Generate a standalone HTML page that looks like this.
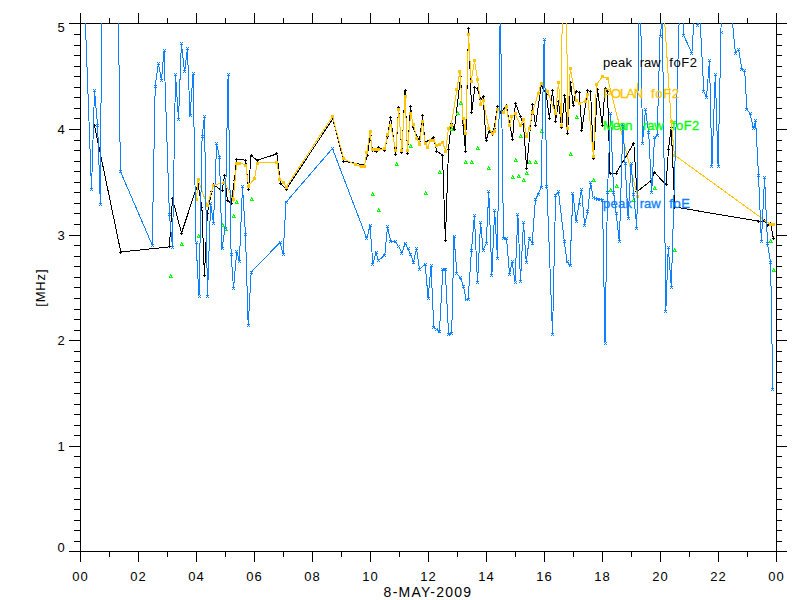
<!DOCTYPE html>
<html><head><meta charset="utf-8"><title>foF2</title>
<style>
html,body{margin:0;padding:0;background:#fff;}
svg{display:block;}
text{font-family:"Liberation Sans",sans-serif;}
</style></head><body>
<svg width="800" height="600" viewBox="0 0 800 600">
<rect x="0" y="0" width="800" height="600" fill="#fff"/>
<defs>
<clipPath id="clip"><rect x="80" y="23" width="697" height="529"/></clipPath>
</defs>
<path d="M80.5,23.5 H776.5 V551.5 H80.5 Z M80.5,551 v11 M80.5,23 v-10 M109.5,551 v6 M109.5,23 v-5 M138.5,551 v11 M138.5,23 v-10 M167.5,551 v6 M167.5,23 v-5 M196.5,551 v11 M196.5,23 v-10 M225.5,551 v6 M225.5,23 v-5 M254.5,551 v11 M254.5,23 v-10 M283.5,551 v6 M283.5,23 v-5 M312.5,551 v11 M312.5,23 v-10 M341.5,551 v6 M341.5,23 v-5 M370.5,551 v11 M370.5,23 v-10 M399.5,551 v6 M399.5,23 v-5 M428.5,551 v11 M428.5,23 v-10 M457.5,551 v6 M457.5,23 v-5 M486.5,551 v11 M486.5,23 v-10 M515.5,551 v6 M515.5,23 v-5 M544.5,551 v11 M544.5,23 v-10 M573.5,551 v6 M573.5,23 v-5 M602.5,551 v11 M602.5,23 v-10 M631.5,551 v6 M631.5,23 v-5 M660.5,551 v11 M660.5,23 v-10 M689.5,551 v6 M689.5,23 v-5 M718.5,551 v11 M718.5,23 v-10 M747.5,551 v6 M747.5,23 v-5 M776.5,551 v11 M776.5,23 v-10 M80,551.5 h-11 M776,551.5 h11 M80,541.5 h-6 M776,541.5 h6 M80,530.5 h-6 M776,530.5 h6 M80,520.5 h-6 M776,520.5 h6 M80,509.5 h-6 M776,509.5 h6 M80,499.5 h-6 M776,499.5 h6 M80,488.5 h-6 M776,488.5 h6 M80,477.5 h-6 M776,477.5 h6 M80,467.5 h-6 M776,467.5 h6 M80,456.5 h-6 M776,456.5 h6 M80,446.5 h-11 M776,446.5 h11 M80,435.5 h-6 M776,435.5 h6 M80,425.5 h-6 M776,425.5 h6 M80,414.5 h-6 M776,414.5 h6 M80,404.5 h-6 M776,404.5 h6 M80,393.5 h-6 M776,393.5 h6 M80,382.5 h-6 M776,382.5 h6 M80,372.5 h-6 M776,372.5 h6 M80,361.5 h-6 M776,361.5 h6 M80,351.5 h-6 M776,351.5 h6 M80,340.5 h-11 M776,340.5 h11 M80,330.5 h-6 M776,330.5 h6 M80,319.5 h-6 M776,319.5 h6 M80,309.5 h-6 M776,309.5 h6 M80,298.5 h-6 M776,298.5 h6 M80,287.5 h-6 M776,287.5 h6 M80,277.5 h-6 M776,277.5 h6 M80,266.5 h-6 M776,266.5 h6 M80,256.5 h-6 M776,256.5 h6 M80,245.5 h-6 M776,245.5 h6 M80,235.5 h-11 M776,235.5 h11 M80,224.5 h-6 M776,224.5 h6 M80,213.5 h-6 M776,213.5 h6 M80,203.5 h-6 M776,203.5 h6 M80,192.5 h-6 M776,192.5 h6 M80,182.5 h-6 M776,182.5 h6 M80,171.5 h-6 M776,171.5 h6 M80,161.5 h-6 M776,161.5 h6 M80,150.5 h-6 M776,150.5 h6 M80,140.5 h-6 M776,140.5 h6 M80,129.5 h-11 M776,129.5 h11 M80,118.5 h-6 M776,118.5 h6 M80,108.5 h-6 M776,108.5 h6 M80,97.5 h-6 M776,97.5 h6 M80,87.5 h-6 M776,87.5 h6 M80,76.5 h-6 M776,76.5 h6 M80,66.5 h-6 M776,66.5 h6 M80,55.5 h-6 M776,55.5 h6 M80,45.5 h-6 M776,45.5 h6 M80,34.5 h-6 M776,34.5 h6 M80,23.5 h-11 M776,23.5 h11" fill="none" stroke="#000" stroke-width="1" shape-rendering="crispEdges"/>
<g clip-path="url(#clip)" fill="none" stroke-width="1" shape-rendering="crispEdges">
<polyline points="94.5,125.6 120.8,252.0 169.4,246.9 172.5,198.8 181.5,233.0 196.2,188.8 198.1,184.7 201.9,207.5 204.4,275.6 207.4,213.0 211.8,191.0 213.3,184.7 222.0,190.6 224.7,175.5 227.4,200.4 231.2,203.1 234.4,180.9 236.6,159.2 245.7,160.2 248.5,189.4 251.1,155.2 257.0,160.4 276.9,153.9 279.8,178.0 280.5,183.0 286.2,189.4 332.8,118.8 343.8,161.2 364.4,165.0 367.5,155.0 370.0,135.0 372.5,150.0 376.2,151.9 378.8,147.5 384.8,150.6 387.5,136.0 390.6,117.5 395.8,154.5 398.6,107.5 401.9,152.5 405.0,90.6 407.5,153.0 410.6,106.6 413.0,127.5 419.4,141.2 422.5,115.6 425.0,142.5 433.5,137.5 436.9,151.2 442.5,155.0 445.4,240.6 448.5,149.4 451.2,123.0 454.4,129.4 460.6,76.9 463.1,125.0 465.5,151.7 468.5,28.8 471.7,112.6 474.8,87.3 477.3,88.8 480.7,99.5 483.1,96.6 486.1,140.6 489.0,131.0 492.0,134.0 494.2,128.1 497.5,106.9 501.2,113.1 506.2,105.0 512.5,139.4 515.4,103.1 520.6,116.9 523.5,124.4 526.6,168.8 532.5,104.4 535.5,125.6 541.2,85.0 546.2,94.4 549.4,118.1 552.5,90.6 555.6,121.2 558.5,101.9 561.6,127.5 564.8,95.0 567.5,133.8 570.6,82.5 573.1,105.0 576.2,91.2 579.4,92.5 581.9,130.0 587.5,90.0 590.6,91.9 593.5,158.8 597.5,89.0 602.3,125.5 605.0,88.0 607.5,91.0 610.0,173.0 616.2,173.0 633.8,143.2 636.9,191.7 650.6,181.0 654.5,172.5 666.1,184.8 668.5,149.4 671.2,127.5 674.8,207.0 758.8,221.2 762.0,221.2 764.4,220.0 767.5,225.0 770.6,223.0 773.3,238.0" stroke="#000"/>
<path d="M94,124h1v1h-1zM93,125h1v1h-1zM94,125h1v1h-1zM95,125h1v1h-1zM94,126h1v1h-1zM120,251h1v1h-1zM119,252h1v1h-1zM120,252h1v1h-1zM121,252h1v1h-1zM120,253h1v1h-1zM169,245h1v1h-1zM168,246h1v1h-1zM169,246h1v1h-1zM170,246h1v1h-1zM169,247h1v1h-1zM172,197h1v1h-1zM171,198h1v1h-1zM172,198h1v1h-1zM173,198h1v1h-1zM172,199h1v1h-1zM181,232h1v1h-1zM180,233h1v1h-1zM181,233h1v1h-1zM182,233h1v1h-1zM181,234h1v1h-1zM196,187h1v1h-1zM195,188h1v1h-1zM196,188h1v1h-1zM197,188h1v1h-1zM196,189h1v1h-1zM198,183h1v1h-1zM197,184h1v1h-1zM198,184h1v1h-1zM199,184h1v1h-1zM198,185h1v1h-1zM201,206h1v1h-1zM200,207h1v1h-1zM201,207h1v1h-1zM202,207h1v1h-1zM201,208h1v1h-1zM204,274h1v1h-1zM203,275h1v1h-1zM204,275h1v1h-1zM205,275h1v1h-1zM204,276h1v1h-1zM207,212h1v1h-1zM206,213h1v1h-1zM207,213h1v1h-1zM208,213h1v1h-1zM207,214h1v1h-1zM211,190h1v1h-1zM210,191h1v1h-1zM211,191h1v1h-1zM212,191h1v1h-1zM211,192h1v1h-1zM213,183h1v1h-1zM212,184h1v1h-1zM213,184h1v1h-1zM214,184h1v1h-1zM213,185h1v1h-1zM222,189h1v1h-1zM221,190h1v1h-1zM222,190h1v1h-1zM223,190h1v1h-1zM222,191h1v1h-1zM224,174h1v1h-1zM223,175h1v1h-1zM224,175h1v1h-1zM225,175h1v1h-1zM224,176h1v1h-1zM227,199h1v1h-1zM226,200h1v1h-1zM227,200h1v1h-1zM228,200h1v1h-1zM227,201h1v1h-1zM231,202h1v1h-1zM230,203h1v1h-1zM231,203h1v1h-1zM232,203h1v1h-1zM231,204h1v1h-1zM234,179h1v1h-1zM233,180h1v1h-1zM234,180h1v1h-1zM235,180h1v1h-1zM234,181h1v1h-1zM236,158h1v1h-1zM235,159h1v1h-1zM236,159h1v1h-1zM237,159h1v1h-1zM236,160h1v1h-1zM245,159h1v1h-1zM244,160h1v1h-1zM245,160h1v1h-1zM246,160h1v1h-1zM245,161h1v1h-1zM248,188h1v1h-1zM247,189h1v1h-1zM248,189h1v1h-1zM249,189h1v1h-1zM248,190h1v1h-1zM251,154h1v1h-1zM250,155h1v1h-1zM251,155h1v1h-1zM252,155h1v1h-1zM251,156h1v1h-1zM257,159h1v1h-1zM256,160h1v1h-1zM257,160h1v1h-1zM258,160h1v1h-1zM257,161h1v1h-1zM276,152h1v1h-1zM275,153h1v1h-1zM276,153h1v1h-1zM277,153h1v1h-1zM276,154h1v1h-1zM279,177h1v1h-1zM278,178h1v1h-1zM279,178h1v1h-1zM280,178h1v1h-1zM279,179h1v1h-1zM280,182h1v1h-1zM279,183h1v1h-1zM280,183h1v1h-1zM281,183h1v1h-1zM280,184h1v1h-1zM286,188h1v1h-1zM285,189h1v1h-1zM286,189h1v1h-1zM287,189h1v1h-1zM286,190h1v1h-1zM332,117h1v1h-1zM331,118h1v1h-1zM332,118h1v1h-1zM333,118h1v1h-1zM332,119h1v1h-1zM343,160h1v1h-1zM342,161h1v1h-1zM343,161h1v1h-1zM344,161h1v1h-1zM343,162h1v1h-1zM364,164h1v1h-1zM363,165h1v1h-1zM364,165h1v1h-1zM365,165h1v1h-1zM364,166h1v1h-1zM367,154h1v1h-1zM366,155h1v1h-1zM367,155h1v1h-1zM368,155h1v1h-1zM367,156h1v1h-1zM370,134h1v1h-1zM369,135h1v1h-1zM370,135h1v1h-1zM371,135h1v1h-1zM370,136h1v1h-1zM372,149h1v1h-1zM371,150h1v1h-1zM372,150h1v1h-1zM373,150h1v1h-1zM372,151h1v1h-1zM376,150h1v1h-1zM375,151h1v1h-1zM376,151h1v1h-1zM377,151h1v1h-1zM376,152h1v1h-1zM378,146h1v1h-1zM377,147h1v1h-1zM378,147h1v1h-1zM379,147h1v1h-1zM378,148h1v1h-1zM384,149h1v1h-1zM383,150h1v1h-1zM384,150h1v1h-1zM385,150h1v1h-1zM384,151h1v1h-1zM387,135h1v1h-1zM386,136h1v1h-1zM387,136h1v1h-1zM388,136h1v1h-1zM387,137h1v1h-1zM390,116h1v1h-1zM389,117h1v1h-1zM390,117h1v1h-1zM391,117h1v1h-1zM390,118h1v1h-1zM395,153h1v1h-1zM394,154h1v1h-1zM395,154h1v1h-1zM396,154h1v1h-1zM395,155h1v1h-1zM398,106h1v1h-1zM397,107h1v1h-1zM398,107h1v1h-1zM399,107h1v1h-1zM398,108h1v1h-1zM401,151h1v1h-1zM400,152h1v1h-1zM401,152h1v1h-1zM402,152h1v1h-1zM401,153h1v1h-1zM405,89h1v1h-1zM404,90h1v1h-1zM405,90h1v1h-1zM406,90h1v1h-1zM405,91h1v1h-1zM407,152h1v1h-1zM406,153h1v1h-1zM407,153h1v1h-1zM408,153h1v1h-1zM407,154h1v1h-1zM410,105h1v1h-1zM409,106h1v1h-1zM410,106h1v1h-1zM411,106h1v1h-1zM410,107h1v1h-1zM413,126h1v1h-1zM412,127h1v1h-1zM413,127h1v1h-1zM414,127h1v1h-1zM413,128h1v1h-1zM419,140h1v1h-1zM418,141h1v1h-1zM419,141h1v1h-1zM420,141h1v1h-1zM419,142h1v1h-1zM422,114h1v1h-1zM421,115h1v1h-1zM422,115h1v1h-1zM423,115h1v1h-1zM422,116h1v1h-1zM425,141h1v1h-1zM424,142h1v1h-1zM425,142h1v1h-1zM426,142h1v1h-1zM425,143h1v1h-1zM433,136h1v1h-1zM432,137h1v1h-1zM433,137h1v1h-1zM434,137h1v1h-1zM433,138h1v1h-1zM436,150h1v1h-1zM435,151h1v1h-1zM436,151h1v1h-1zM437,151h1v1h-1zM436,152h1v1h-1zM442,154h1v1h-1zM441,155h1v1h-1zM442,155h1v1h-1zM443,155h1v1h-1zM442,156h1v1h-1zM445,239h1v1h-1zM444,240h1v1h-1zM445,240h1v1h-1zM446,240h1v1h-1zM445,241h1v1h-1zM448,148h1v1h-1zM447,149h1v1h-1zM448,149h1v1h-1zM449,149h1v1h-1zM448,150h1v1h-1zM451,122h1v1h-1zM450,123h1v1h-1zM451,123h1v1h-1zM452,123h1v1h-1zM451,124h1v1h-1zM454,128h1v1h-1zM453,129h1v1h-1zM454,129h1v1h-1zM455,129h1v1h-1zM454,130h1v1h-1zM460,75h1v1h-1zM459,76h1v1h-1zM460,76h1v1h-1zM461,76h1v1h-1zM460,77h1v1h-1zM463,124h1v1h-1zM462,125h1v1h-1zM463,125h1v1h-1zM464,125h1v1h-1zM463,126h1v1h-1zM465,150h1v1h-1zM464,151h1v1h-1zM465,151h1v1h-1zM466,151h1v1h-1zM465,152h1v1h-1zM468,27h1v1h-1zM467,28h1v1h-1zM468,28h1v1h-1zM469,28h1v1h-1zM468,29h1v1h-1zM471,111h1v1h-1zM470,112h1v1h-1zM471,112h1v1h-1zM472,112h1v1h-1zM471,113h1v1h-1zM474,86h1v1h-1zM473,87h1v1h-1zM474,87h1v1h-1zM475,87h1v1h-1zM474,88h1v1h-1zM477,87h1v1h-1zM476,88h1v1h-1zM477,88h1v1h-1zM478,88h1v1h-1zM477,89h1v1h-1zM480,98h1v1h-1zM479,99h1v1h-1zM480,99h1v1h-1zM481,99h1v1h-1zM480,100h1v1h-1zM483,95h1v1h-1zM482,96h1v1h-1zM483,96h1v1h-1zM484,96h1v1h-1zM483,97h1v1h-1zM486,139h1v1h-1zM485,140h1v1h-1zM486,140h1v1h-1zM487,140h1v1h-1zM486,141h1v1h-1zM489,130h1v1h-1zM488,131h1v1h-1zM489,131h1v1h-1zM490,131h1v1h-1zM489,132h1v1h-1zM492,133h1v1h-1zM491,134h1v1h-1zM492,134h1v1h-1zM493,134h1v1h-1zM492,135h1v1h-1zM494,127h1v1h-1zM493,128h1v1h-1zM494,128h1v1h-1zM495,128h1v1h-1zM494,129h1v1h-1zM497,105h1v1h-1zM496,106h1v1h-1zM497,106h1v1h-1zM498,106h1v1h-1zM497,107h1v1h-1zM501,112h1v1h-1zM500,113h1v1h-1zM501,113h1v1h-1zM502,113h1v1h-1zM501,114h1v1h-1zM506,104h1v1h-1zM505,105h1v1h-1zM506,105h1v1h-1zM507,105h1v1h-1zM506,106h1v1h-1zM512,138h1v1h-1zM511,139h1v1h-1zM512,139h1v1h-1zM513,139h1v1h-1zM512,140h1v1h-1zM515,102h1v1h-1zM514,103h1v1h-1zM515,103h1v1h-1zM516,103h1v1h-1zM515,104h1v1h-1zM520,115h1v1h-1zM519,116h1v1h-1zM520,116h1v1h-1zM521,116h1v1h-1zM520,117h1v1h-1zM523,123h1v1h-1zM522,124h1v1h-1zM523,124h1v1h-1zM524,124h1v1h-1zM523,125h1v1h-1zM526,167h1v1h-1zM525,168h1v1h-1zM526,168h1v1h-1zM527,168h1v1h-1zM526,169h1v1h-1zM532,103h1v1h-1zM531,104h1v1h-1zM532,104h1v1h-1zM533,104h1v1h-1zM532,105h1v1h-1zM535,124h1v1h-1zM534,125h1v1h-1zM535,125h1v1h-1zM536,125h1v1h-1zM535,126h1v1h-1zM541,84h1v1h-1zM540,85h1v1h-1zM541,85h1v1h-1zM542,85h1v1h-1zM541,86h1v1h-1zM546,93h1v1h-1zM545,94h1v1h-1zM546,94h1v1h-1zM547,94h1v1h-1zM546,95h1v1h-1zM549,117h1v1h-1zM548,118h1v1h-1zM549,118h1v1h-1zM550,118h1v1h-1zM549,119h1v1h-1zM552,89h1v1h-1zM551,90h1v1h-1zM552,90h1v1h-1zM553,90h1v1h-1zM552,91h1v1h-1zM555,120h1v1h-1zM554,121h1v1h-1zM555,121h1v1h-1zM556,121h1v1h-1zM555,122h1v1h-1zM558,100h1v1h-1zM557,101h1v1h-1zM558,101h1v1h-1zM559,101h1v1h-1zM558,102h1v1h-1zM561,126h1v1h-1zM560,127h1v1h-1zM561,127h1v1h-1zM562,127h1v1h-1zM561,128h1v1h-1zM564,94h1v1h-1zM563,95h1v1h-1zM564,95h1v1h-1zM565,95h1v1h-1zM564,96h1v1h-1zM567,132h1v1h-1zM566,133h1v1h-1zM567,133h1v1h-1zM568,133h1v1h-1zM567,134h1v1h-1zM570,81h1v1h-1zM569,82h1v1h-1zM570,82h1v1h-1zM571,82h1v1h-1zM570,83h1v1h-1zM573,104h1v1h-1zM572,105h1v1h-1zM573,105h1v1h-1zM574,105h1v1h-1zM573,106h1v1h-1zM576,90h1v1h-1zM575,91h1v1h-1zM576,91h1v1h-1zM577,91h1v1h-1zM576,92h1v1h-1zM579,91h1v1h-1zM578,92h1v1h-1zM579,92h1v1h-1zM580,92h1v1h-1zM579,93h1v1h-1zM581,129h1v1h-1zM580,130h1v1h-1zM581,130h1v1h-1zM582,130h1v1h-1zM581,131h1v1h-1zM587,89h1v1h-1zM586,90h1v1h-1zM587,90h1v1h-1zM588,90h1v1h-1zM587,91h1v1h-1zM590,90h1v1h-1zM589,91h1v1h-1zM590,91h1v1h-1zM591,91h1v1h-1zM590,92h1v1h-1zM593,157h1v1h-1zM592,158h1v1h-1zM593,158h1v1h-1zM594,158h1v1h-1zM593,159h1v1h-1zM597,88h1v1h-1zM596,89h1v1h-1zM597,89h1v1h-1zM598,89h1v1h-1zM597,90h1v1h-1zM602,124h1v1h-1zM601,125h1v1h-1zM602,125h1v1h-1zM603,125h1v1h-1zM602,126h1v1h-1zM605,87h1v1h-1zM604,88h1v1h-1zM605,88h1v1h-1zM606,88h1v1h-1zM605,89h1v1h-1zM607,90h1v1h-1zM606,91h1v1h-1zM607,91h1v1h-1zM608,91h1v1h-1zM607,92h1v1h-1zM610,172h1v1h-1zM609,173h1v1h-1zM610,173h1v1h-1zM611,173h1v1h-1zM610,174h1v1h-1zM616,172h1v1h-1zM615,173h1v1h-1zM616,173h1v1h-1zM617,173h1v1h-1zM616,174h1v1h-1zM633,142h1v1h-1zM632,143h1v1h-1zM633,143h1v1h-1zM634,143h1v1h-1zM633,144h1v1h-1zM636,190h1v1h-1zM635,191h1v1h-1zM636,191h1v1h-1zM637,191h1v1h-1zM636,192h1v1h-1zM650,180h1v1h-1zM649,181h1v1h-1zM650,181h1v1h-1zM651,181h1v1h-1zM650,182h1v1h-1zM654,171h1v1h-1zM653,172h1v1h-1zM654,172h1v1h-1zM655,172h1v1h-1zM654,173h1v1h-1zM666,183h1v1h-1zM665,184h1v1h-1zM666,184h1v1h-1zM667,184h1v1h-1zM666,185h1v1h-1zM668,148h1v1h-1zM667,149h1v1h-1zM668,149h1v1h-1zM669,149h1v1h-1zM668,150h1v1h-1zM671,126h1v1h-1zM670,127h1v1h-1zM671,127h1v1h-1zM672,127h1v1h-1zM671,128h1v1h-1zM674,206h1v1h-1zM673,207h1v1h-1zM674,207h1v1h-1zM675,207h1v1h-1zM674,208h1v1h-1zM758,220h1v1h-1zM757,221h1v1h-1zM758,221h1v1h-1zM759,221h1v1h-1zM758,222h1v1h-1zM762,220h1v1h-1zM761,221h1v1h-1zM762,221h1v1h-1zM763,221h1v1h-1zM762,222h1v1h-1zM764,219h1v1h-1zM763,220h1v1h-1zM764,220h1v1h-1zM765,220h1v1h-1zM764,221h1v1h-1zM767,224h1v1h-1zM766,225h1v1h-1zM767,225h1v1h-1zM768,225h1v1h-1zM767,226h1v1h-1zM770,222h1v1h-1zM769,223h1v1h-1zM770,223h1v1h-1zM771,223h1v1h-1zM770,224h1v1h-1zM773,237h1v1h-1zM772,238h1v1h-1zM773,238h1v1h-1zM774,238h1v1h-1zM773,239h1v1h-1z" fill="#000" stroke="none"/>
<polyline points="196.5,199.8 198.1,179.8 207.3,205.8 213.3,185.2 224.7,182.5 233.2,199.9 236.6,163.5 239.9,163.0 245.7,165.1 248.5,186.0 254.6,178.4 257.2,163.0 276.9,162.3 279.8,179.4 283.0,182.0 286.2,187.0 332.5,116.5 343.8,158.8 355.0,164.4 361.9,166.9 364.4,166.2 366.9,152.5 370.0,131.2 372.2,149.4 375.6,149.4 378.8,149.4 384.8,148.8 387.5,134.8 390.6,125.3 395.8,150.3 398.6,109.0 401.9,150.0 405.0,96.2 407.5,150.0 410.6,113.8 413.5,124.4 416.5,138.1 419.4,144.4 422.5,121.2 425.0,143.8 427.5,147.5 430.6,140.0 433.5,140.0 436.9,145.6 439.4,144.4 442.5,142.2 445.6,151.0 448.5,128.4 451.2,125.3 456.9,89.3 459.9,71.2 463.1,118.8 465.6,133.4 468.5,34.4 471.2,81.5 474.5,60.7 477.5,79.0 480.6,104.0 483.1,100.6 488.8,128.1 492.5,133.8 494.4,131.9 497.5,109.4 503.8,112.5 506.2,106.2 509.4,125.0 511.9,116.9 515.0,113.8 520.6,125.6 523.5,119.4 526.6,136.2 529.4,128.1 532.5,112.2 538.1,93.8 541.2,83.1 547.5,91.2 555.6,113.8 558.5,82.2 561.6,125.0 564.0,-400.0 567.5,128.8 570.3,68.1 576.2,100.6 579.4,103.1 585.0,101.2 587.5,94.2 593.4,156.2 596.4,84.4 602.5,76.7 607.5,78.3 637.5,196.0 640.0,-355.0 671.2,121.5 674.4,155.0 770.0,224.2 773.0,224.4" stroke="#ffc400"/>
<path d="M195,198h1v1h-1zM195,199h1v1h-1zM195,200h1v1h-1zM196,198h1v1h-1zM196,199h1v1h-1zM196,200h1v1h-1zM197,198h1v1h-1zM197,199h1v1h-1zM197,200h1v1h-1zM197,178h1v1h-1zM197,179h1v1h-1zM197,180h1v1h-1zM198,178h1v1h-1zM198,179h1v1h-1zM198,180h1v1h-1zM199,178h1v1h-1zM199,179h1v1h-1zM199,180h1v1h-1zM206,204h1v1h-1zM206,205h1v1h-1zM206,206h1v1h-1zM207,204h1v1h-1zM207,205h1v1h-1zM207,206h1v1h-1zM208,204h1v1h-1zM208,205h1v1h-1zM208,206h1v1h-1zM212,184h1v1h-1zM212,185h1v1h-1zM212,186h1v1h-1zM213,184h1v1h-1zM213,185h1v1h-1zM213,186h1v1h-1zM214,184h1v1h-1zM214,185h1v1h-1zM214,186h1v1h-1zM223,181h1v1h-1zM223,182h1v1h-1zM223,183h1v1h-1zM224,181h1v1h-1zM224,182h1v1h-1zM224,183h1v1h-1zM225,181h1v1h-1zM225,182h1v1h-1zM225,183h1v1h-1zM232,198h1v1h-1zM232,199h1v1h-1zM232,200h1v1h-1zM233,198h1v1h-1zM233,199h1v1h-1zM233,200h1v1h-1zM234,198h1v1h-1zM234,199h1v1h-1zM234,200h1v1h-1zM235,162h1v1h-1zM235,163h1v1h-1zM235,164h1v1h-1zM236,162h1v1h-1zM236,163h1v1h-1zM236,164h1v1h-1zM237,162h1v1h-1zM237,163h1v1h-1zM237,164h1v1h-1zM238,162h1v1h-1zM238,163h1v1h-1zM238,164h1v1h-1zM239,162h1v1h-1zM239,163h1v1h-1zM239,164h1v1h-1zM240,162h1v1h-1zM240,163h1v1h-1zM240,164h1v1h-1zM244,164h1v1h-1zM244,165h1v1h-1zM244,166h1v1h-1zM245,164h1v1h-1zM245,165h1v1h-1zM245,166h1v1h-1zM246,164h1v1h-1zM246,165h1v1h-1zM246,166h1v1h-1zM247,185h1v1h-1zM247,186h1v1h-1zM247,187h1v1h-1zM248,185h1v1h-1zM248,186h1v1h-1zM248,187h1v1h-1zM249,185h1v1h-1zM249,186h1v1h-1zM249,187h1v1h-1zM253,177h1v1h-1zM253,178h1v1h-1zM253,179h1v1h-1zM254,177h1v1h-1zM254,178h1v1h-1zM254,179h1v1h-1zM255,177h1v1h-1zM255,178h1v1h-1zM255,179h1v1h-1zM256,162h1v1h-1zM256,163h1v1h-1zM256,164h1v1h-1zM257,162h1v1h-1zM257,163h1v1h-1zM257,164h1v1h-1zM258,162h1v1h-1zM258,163h1v1h-1zM258,164h1v1h-1zM275,161h1v1h-1zM275,162h1v1h-1zM275,163h1v1h-1zM276,161h1v1h-1zM276,162h1v1h-1zM276,163h1v1h-1zM277,161h1v1h-1zM277,162h1v1h-1zM277,163h1v1h-1zM278,178h1v1h-1zM278,179h1v1h-1zM278,180h1v1h-1zM279,178h1v1h-1zM279,179h1v1h-1zM279,180h1v1h-1zM280,178h1v1h-1zM280,179h1v1h-1zM280,180h1v1h-1zM282,181h1v1h-1zM282,182h1v1h-1zM282,183h1v1h-1zM283,181h1v1h-1zM283,182h1v1h-1zM283,183h1v1h-1zM284,181h1v1h-1zM284,182h1v1h-1zM284,183h1v1h-1zM285,186h1v1h-1zM285,187h1v1h-1zM285,188h1v1h-1zM286,186h1v1h-1zM286,187h1v1h-1zM286,188h1v1h-1zM287,186h1v1h-1zM287,187h1v1h-1zM287,188h1v1h-1zM331,115h1v1h-1zM331,116h1v1h-1zM331,117h1v1h-1zM332,115h1v1h-1zM332,116h1v1h-1zM332,117h1v1h-1zM333,115h1v1h-1zM333,116h1v1h-1zM333,117h1v1h-1zM342,157h1v1h-1zM342,158h1v1h-1zM342,159h1v1h-1zM343,157h1v1h-1zM343,158h1v1h-1zM343,159h1v1h-1zM344,157h1v1h-1zM344,158h1v1h-1zM344,159h1v1h-1zM354,163h1v1h-1zM354,164h1v1h-1zM354,165h1v1h-1zM355,163h1v1h-1zM355,164h1v1h-1zM355,165h1v1h-1zM356,163h1v1h-1zM356,164h1v1h-1zM356,165h1v1h-1zM360,165h1v1h-1zM360,166h1v1h-1zM360,167h1v1h-1zM361,165h1v1h-1zM361,166h1v1h-1zM361,167h1v1h-1zM362,165h1v1h-1zM362,166h1v1h-1zM362,167h1v1h-1zM363,165h1v1h-1zM363,166h1v1h-1zM363,167h1v1h-1zM364,165h1v1h-1zM364,166h1v1h-1zM364,167h1v1h-1zM365,165h1v1h-1zM365,166h1v1h-1zM365,167h1v1h-1zM365,151h1v1h-1zM365,152h1v1h-1zM365,153h1v1h-1zM366,151h1v1h-1zM366,152h1v1h-1zM366,153h1v1h-1zM367,151h1v1h-1zM367,152h1v1h-1zM367,153h1v1h-1zM369,130h1v1h-1zM369,131h1v1h-1zM369,132h1v1h-1zM370,130h1v1h-1zM370,131h1v1h-1zM370,132h1v1h-1zM371,130h1v1h-1zM371,131h1v1h-1zM371,132h1v1h-1zM371,148h1v1h-1zM371,149h1v1h-1zM371,150h1v1h-1zM372,148h1v1h-1zM372,149h1v1h-1zM372,150h1v1h-1zM373,148h1v1h-1zM373,149h1v1h-1zM373,150h1v1h-1zM374,148h1v1h-1zM374,149h1v1h-1zM374,150h1v1h-1zM375,148h1v1h-1zM375,149h1v1h-1zM375,150h1v1h-1zM376,148h1v1h-1zM376,149h1v1h-1zM376,150h1v1h-1zM377,148h1v1h-1zM377,149h1v1h-1zM377,150h1v1h-1zM378,148h1v1h-1zM378,149h1v1h-1zM378,150h1v1h-1zM379,148h1v1h-1zM379,149h1v1h-1zM379,150h1v1h-1zM383,147h1v1h-1zM383,148h1v1h-1zM383,149h1v1h-1zM384,147h1v1h-1zM384,148h1v1h-1zM384,149h1v1h-1zM385,147h1v1h-1zM385,148h1v1h-1zM385,149h1v1h-1zM386,133h1v1h-1zM386,134h1v1h-1zM386,135h1v1h-1zM387,133h1v1h-1zM387,134h1v1h-1zM387,135h1v1h-1zM388,133h1v1h-1zM388,134h1v1h-1zM388,135h1v1h-1zM389,124h1v1h-1zM389,125h1v1h-1zM389,126h1v1h-1zM390,124h1v1h-1zM390,125h1v1h-1zM390,126h1v1h-1zM391,124h1v1h-1zM391,125h1v1h-1zM391,126h1v1h-1zM394,149h1v1h-1zM394,150h1v1h-1zM394,151h1v1h-1zM395,149h1v1h-1zM395,150h1v1h-1zM395,151h1v1h-1zM396,149h1v1h-1zM396,150h1v1h-1zM396,151h1v1h-1zM397,108h1v1h-1zM397,109h1v1h-1zM397,110h1v1h-1zM398,108h1v1h-1zM398,109h1v1h-1zM398,110h1v1h-1zM399,108h1v1h-1zM399,109h1v1h-1zM399,110h1v1h-1zM400,149h1v1h-1zM400,150h1v1h-1zM400,151h1v1h-1zM401,149h1v1h-1zM401,150h1v1h-1zM401,151h1v1h-1zM402,149h1v1h-1zM402,150h1v1h-1zM402,151h1v1h-1zM404,95h1v1h-1zM404,96h1v1h-1zM404,97h1v1h-1zM405,95h1v1h-1zM405,96h1v1h-1zM405,97h1v1h-1zM406,95h1v1h-1zM406,96h1v1h-1zM406,97h1v1h-1zM406,149h1v1h-1zM406,150h1v1h-1zM406,151h1v1h-1zM407,149h1v1h-1zM407,150h1v1h-1zM407,151h1v1h-1zM408,149h1v1h-1zM408,150h1v1h-1zM408,151h1v1h-1zM409,112h1v1h-1zM409,113h1v1h-1zM409,114h1v1h-1zM410,112h1v1h-1zM410,113h1v1h-1zM410,114h1v1h-1zM411,112h1v1h-1zM411,113h1v1h-1zM411,114h1v1h-1zM412,123h1v1h-1zM412,124h1v1h-1zM412,125h1v1h-1zM413,123h1v1h-1zM413,124h1v1h-1zM413,125h1v1h-1zM414,123h1v1h-1zM414,124h1v1h-1zM414,125h1v1h-1zM415,137h1v1h-1zM415,138h1v1h-1zM415,139h1v1h-1zM416,137h1v1h-1zM416,138h1v1h-1zM416,139h1v1h-1zM417,137h1v1h-1zM417,138h1v1h-1zM417,139h1v1h-1zM418,143h1v1h-1zM418,144h1v1h-1zM418,145h1v1h-1zM419,143h1v1h-1zM419,144h1v1h-1zM419,145h1v1h-1zM420,143h1v1h-1zM420,144h1v1h-1zM420,145h1v1h-1zM421,120h1v1h-1zM421,121h1v1h-1zM421,122h1v1h-1zM422,120h1v1h-1zM422,121h1v1h-1zM422,122h1v1h-1zM423,120h1v1h-1zM423,121h1v1h-1zM423,122h1v1h-1zM424,142h1v1h-1zM424,143h1v1h-1zM424,144h1v1h-1zM425,142h1v1h-1zM425,143h1v1h-1zM425,144h1v1h-1zM426,142h1v1h-1zM426,143h1v1h-1zM426,144h1v1h-1zM426,146h1v1h-1zM426,147h1v1h-1zM426,148h1v1h-1zM427,146h1v1h-1zM427,147h1v1h-1zM427,148h1v1h-1zM428,146h1v1h-1zM428,147h1v1h-1zM428,148h1v1h-1zM429,139h1v1h-1zM429,140h1v1h-1zM429,141h1v1h-1zM430,139h1v1h-1zM430,140h1v1h-1zM430,141h1v1h-1zM431,139h1v1h-1zM431,140h1v1h-1zM431,141h1v1h-1zM432,139h1v1h-1zM432,140h1v1h-1zM432,141h1v1h-1zM433,139h1v1h-1zM433,140h1v1h-1zM433,141h1v1h-1zM434,139h1v1h-1zM434,140h1v1h-1zM434,141h1v1h-1zM435,144h1v1h-1zM435,145h1v1h-1zM435,146h1v1h-1zM436,144h1v1h-1zM436,145h1v1h-1zM436,146h1v1h-1zM437,144h1v1h-1zM437,145h1v1h-1zM437,146h1v1h-1zM438,143h1v1h-1zM438,144h1v1h-1zM438,145h1v1h-1zM439,143h1v1h-1zM439,144h1v1h-1zM439,145h1v1h-1zM440,143h1v1h-1zM440,144h1v1h-1zM440,145h1v1h-1zM441,141h1v1h-1zM441,142h1v1h-1zM441,143h1v1h-1zM442,141h1v1h-1zM442,142h1v1h-1zM442,143h1v1h-1zM443,141h1v1h-1zM443,142h1v1h-1zM443,143h1v1h-1zM444,150h1v1h-1zM444,151h1v1h-1zM444,152h1v1h-1zM445,150h1v1h-1zM445,151h1v1h-1zM445,152h1v1h-1zM446,150h1v1h-1zM446,151h1v1h-1zM446,152h1v1h-1zM447,127h1v1h-1zM447,128h1v1h-1zM447,129h1v1h-1zM448,127h1v1h-1zM448,128h1v1h-1zM448,129h1v1h-1zM449,127h1v1h-1zM449,128h1v1h-1zM449,129h1v1h-1zM450,124h1v1h-1zM450,125h1v1h-1zM450,126h1v1h-1zM451,124h1v1h-1zM451,125h1v1h-1zM451,126h1v1h-1zM452,124h1v1h-1zM452,125h1v1h-1zM452,126h1v1h-1zM455,88h1v1h-1zM455,89h1v1h-1zM455,90h1v1h-1zM456,88h1v1h-1zM456,89h1v1h-1zM456,90h1v1h-1zM457,88h1v1h-1zM457,89h1v1h-1zM457,90h1v1h-1zM458,70h1v1h-1zM458,71h1v1h-1zM458,72h1v1h-1zM459,70h1v1h-1zM459,71h1v1h-1zM459,72h1v1h-1zM460,70h1v1h-1zM460,71h1v1h-1zM460,72h1v1h-1zM462,117h1v1h-1zM462,118h1v1h-1zM462,119h1v1h-1zM463,117h1v1h-1zM463,118h1v1h-1zM463,119h1v1h-1zM464,117h1v1h-1zM464,118h1v1h-1zM464,119h1v1h-1zM464,132h1v1h-1zM464,133h1v1h-1zM464,134h1v1h-1zM465,132h1v1h-1zM465,133h1v1h-1zM465,134h1v1h-1zM466,132h1v1h-1zM466,133h1v1h-1zM466,134h1v1h-1zM467,33h1v1h-1zM467,34h1v1h-1zM467,35h1v1h-1zM468,33h1v1h-1zM468,34h1v1h-1zM468,35h1v1h-1zM469,33h1v1h-1zM469,34h1v1h-1zM469,35h1v1h-1zM470,80h1v1h-1zM470,81h1v1h-1zM470,82h1v1h-1zM471,80h1v1h-1zM471,81h1v1h-1zM471,82h1v1h-1zM472,80h1v1h-1zM472,81h1v1h-1zM472,82h1v1h-1zM473,59h1v1h-1zM473,60h1v1h-1zM473,61h1v1h-1zM474,59h1v1h-1zM474,60h1v1h-1zM474,61h1v1h-1zM475,59h1v1h-1zM475,60h1v1h-1zM475,61h1v1h-1zM476,78h1v1h-1zM476,79h1v1h-1zM476,80h1v1h-1zM477,78h1v1h-1zM477,79h1v1h-1zM477,80h1v1h-1zM478,78h1v1h-1zM478,79h1v1h-1zM478,80h1v1h-1zM479,103h1v1h-1zM479,104h1v1h-1zM479,105h1v1h-1zM480,103h1v1h-1zM480,104h1v1h-1zM480,105h1v1h-1zM481,103h1v1h-1zM481,104h1v1h-1zM481,105h1v1h-1zM482,99h1v1h-1zM482,100h1v1h-1zM482,101h1v1h-1zM483,99h1v1h-1zM483,100h1v1h-1zM483,101h1v1h-1zM484,99h1v1h-1zM484,100h1v1h-1zM484,101h1v1h-1zM487,127h1v1h-1zM487,128h1v1h-1zM487,129h1v1h-1zM488,127h1v1h-1zM488,128h1v1h-1zM488,129h1v1h-1zM489,127h1v1h-1zM489,128h1v1h-1zM489,129h1v1h-1zM491,132h1v1h-1zM491,133h1v1h-1zM491,134h1v1h-1zM492,132h1v1h-1zM492,133h1v1h-1zM492,134h1v1h-1zM493,132h1v1h-1zM493,133h1v1h-1zM493,134h1v1h-1zM493,130h1v1h-1zM493,131h1v1h-1zM493,132h1v1h-1zM494,130h1v1h-1zM494,131h1v1h-1zM494,132h1v1h-1zM495,130h1v1h-1zM495,131h1v1h-1zM495,132h1v1h-1zM496,108h1v1h-1zM496,109h1v1h-1zM496,110h1v1h-1zM497,108h1v1h-1zM497,109h1v1h-1zM497,110h1v1h-1zM498,108h1v1h-1zM498,109h1v1h-1zM498,110h1v1h-1zM502,111h1v1h-1zM502,112h1v1h-1zM502,113h1v1h-1zM503,111h1v1h-1zM503,112h1v1h-1zM503,113h1v1h-1zM504,111h1v1h-1zM504,112h1v1h-1zM504,113h1v1h-1zM505,105h1v1h-1zM505,106h1v1h-1zM505,107h1v1h-1zM506,105h1v1h-1zM506,106h1v1h-1zM506,107h1v1h-1zM507,105h1v1h-1zM507,106h1v1h-1zM507,107h1v1h-1zM508,124h1v1h-1zM508,125h1v1h-1zM508,126h1v1h-1zM509,124h1v1h-1zM509,125h1v1h-1zM509,126h1v1h-1zM510,124h1v1h-1zM510,125h1v1h-1zM510,126h1v1h-1zM510,115h1v1h-1zM510,116h1v1h-1zM510,117h1v1h-1zM511,115h1v1h-1zM511,116h1v1h-1zM511,117h1v1h-1zM512,115h1v1h-1zM512,116h1v1h-1zM512,117h1v1h-1zM514,112h1v1h-1zM514,113h1v1h-1zM514,114h1v1h-1zM515,112h1v1h-1zM515,113h1v1h-1zM515,114h1v1h-1zM516,112h1v1h-1zM516,113h1v1h-1zM516,114h1v1h-1zM519,124h1v1h-1zM519,125h1v1h-1zM519,126h1v1h-1zM520,124h1v1h-1zM520,125h1v1h-1zM520,126h1v1h-1zM521,124h1v1h-1zM521,125h1v1h-1zM521,126h1v1h-1zM522,118h1v1h-1zM522,119h1v1h-1zM522,120h1v1h-1zM523,118h1v1h-1zM523,119h1v1h-1zM523,120h1v1h-1zM524,118h1v1h-1zM524,119h1v1h-1zM524,120h1v1h-1zM525,135h1v1h-1zM525,136h1v1h-1zM525,137h1v1h-1zM526,135h1v1h-1zM526,136h1v1h-1zM526,137h1v1h-1zM527,135h1v1h-1zM527,136h1v1h-1zM527,137h1v1h-1zM528,127h1v1h-1zM528,128h1v1h-1zM528,129h1v1h-1zM529,127h1v1h-1zM529,128h1v1h-1zM529,129h1v1h-1zM530,127h1v1h-1zM530,128h1v1h-1zM530,129h1v1h-1zM531,111h1v1h-1zM531,112h1v1h-1zM531,113h1v1h-1zM532,111h1v1h-1zM532,112h1v1h-1zM532,113h1v1h-1zM533,111h1v1h-1zM533,112h1v1h-1zM533,113h1v1h-1zM537,92h1v1h-1zM537,93h1v1h-1zM537,94h1v1h-1zM538,92h1v1h-1zM538,93h1v1h-1zM538,94h1v1h-1zM539,92h1v1h-1zM539,93h1v1h-1zM539,94h1v1h-1zM540,82h1v1h-1zM540,83h1v1h-1zM540,84h1v1h-1zM541,82h1v1h-1zM541,83h1v1h-1zM541,84h1v1h-1zM542,82h1v1h-1zM542,83h1v1h-1zM542,84h1v1h-1zM546,90h1v1h-1zM546,91h1v1h-1zM546,92h1v1h-1zM547,90h1v1h-1zM547,91h1v1h-1zM547,92h1v1h-1zM548,90h1v1h-1zM548,91h1v1h-1zM548,92h1v1h-1zM554,112h1v1h-1zM554,113h1v1h-1zM554,114h1v1h-1zM555,112h1v1h-1zM555,113h1v1h-1zM555,114h1v1h-1zM556,112h1v1h-1zM556,113h1v1h-1zM556,114h1v1h-1zM557,81h1v1h-1zM557,82h1v1h-1zM557,83h1v1h-1zM558,81h1v1h-1zM558,82h1v1h-1zM558,83h1v1h-1zM559,81h1v1h-1zM559,82h1v1h-1zM559,83h1v1h-1zM560,124h1v1h-1zM560,125h1v1h-1zM560,126h1v1h-1zM561,124h1v1h-1zM561,125h1v1h-1zM561,126h1v1h-1zM562,124h1v1h-1zM562,125h1v1h-1zM562,126h1v1h-1zM566,127h1v1h-1zM566,128h1v1h-1zM566,129h1v1h-1zM567,127h1v1h-1zM567,128h1v1h-1zM567,129h1v1h-1zM568,127h1v1h-1zM568,128h1v1h-1zM568,129h1v1h-1zM569,67h1v1h-1zM569,68h1v1h-1zM569,69h1v1h-1zM570,67h1v1h-1zM570,68h1v1h-1zM570,69h1v1h-1zM571,67h1v1h-1zM571,68h1v1h-1zM571,69h1v1h-1zM575,99h1v1h-1zM575,100h1v1h-1zM575,101h1v1h-1zM576,99h1v1h-1zM576,100h1v1h-1zM576,101h1v1h-1zM577,99h1v1h-1zM577,100h1v1h-1zM577,101h1v1h-1zM578,102h1v1h-1zM578,103h1v1h-1zM578,104h1v1h-1zM579,102h1v1h-1zM579,103h1v1h-1zM579,104h1v1h-1zM580,102h1v1h-1zM580,103h1v1h-1zM580,104h1v1h-1zM584,100h1v1h-1zM584,101h1v1h-1zM584,102h1v1h-1zM585,100h1v1h-1zM585,101h1v1h-1zM585,102h1v1h-1zM586,100h1v1h-1zM586,101h1v1h-1zM586,102h1v1h-1zM586,93h1v1h-1zM586,94h1v1h-1zM586,95h1v1h-1zM587,93h1v1h-1zM587,94h1v1h-1zM587,95h1v1h-1zM588,93h1v1h-1zM588,94h1v1h-1zM588,95h1v1h-1zM592,155h1v1h-1zM592,156h1v1h-1zM592,157h1v1h-1zM593,155h1v1h-1zM593,156h1v1h-1zM593,157h1v1h-1zM594,155h1v1h-1zM594,156h1v1h-1zM594,157h1v1h-1zM595,83h1v1h-1zM595,84h1v1h-1zM595,85h1v1h-1zM596,83h1v1h-1zM596,84h1v1h-1zM596,85h1v1h-1zM597,83h1v1h-1zM597,84h1v1h-1zM597,85h1v1h-1zM601,75h1v1h-1zM601,76h1v1h-1zM601,77h1v1h-1zM602,75h1v1h-1zM602,76h1v1h-1zM602,77h1v1h-1zM603,75h1v1h-1zM603,76h1v1h-1zM603,77h1v1h-1zM606,77h1v1h-1zM606,78h1v1h-1zM606,79h1v1h-1zM607,77h1v1h-1zM607,78h1v1h-1zM607,79h1v1h-1zM608,77h1v1h-1zM608,78h1v1h-1zM608,79h1v1h-1zM636,195h1v1h-1zM636,196h1v1h-1zM636,197h1v1h-1zM637,195h1v1h-1zM637,196h1v1h-1zM637,197h1v1h-1zM638,195h1v1h-1zM638,196h1v1h-1zM638,197h1v1h-1zM670,120h1v1h-1zM670,121h1v1h-1zM670,122h1v1h-1zM671,120h1v1h-1zM671,121h1v1h-1zM671,122h1v1h-1zM672,120h1v1h-1zM672,121h1v1h-1zM672,122h1v1h-1zM673,154h1v1h-1zM673,155h1v1h-1zM673,156h1v1h-1zM674,154h1v1h-1zM674,155h1v1h-1zM674,156h1v1h-1zM675,154h1v1h-1zM675,155h1v1h-1zM675,156h1v1h-1zM769,223h1v1h-1zM769,224h1v1h-1zM769,225h1v1h-1zM770,223h1v1h-1zM770,224h1v1h-1zM770,225h1v1h-1zM771,223h1v1h-1zM771,224h1v1h-1zM771,225h1v1h-1zM772,223h1v1h-1zM772,224h1v1h-1zM772,225h1v1h-1zM773,223h1v1h-1zM773,224h1v1h-1zM773,225h1v1h-1zM774,223h1v1h-1zM774,224h1v1h-1zM774,225h1v1h-1z" fill="#ffc400" stroke="none"/>
<path d="M170,274h1v1h-1zM170,275h1v1h-1zM171,275h1v1h-1zM169,276h1v1h-1zM171,276h1v1h-1zM169,277h1v1h-1zM170,277h1v1h-1zM171,277h1v1h-1zM172,277h1v1h-1zM181,242h1v1h-1zM181,243h1v1h-1zM182,243h1v1h-1zM180,244h1v1h-1zM182,244h1v1h-1zM180,245h1v1h-1zM181,245h1v1h-1zM182,245h1v1h-1zM183,245h1v1h-1zM198,234h1v1h-1zM198,235h1v1h-1zM199,235h1v1h-1zM197,236h1v1h-1zM199,236h1v1h-1zM197,237h1v1h-1zM198,237h1v1h-1zM199,237h1v1h-1zM200,237h1v1h-1zM222,223h1v1h-1zM222,224h1v1h-1zM223,224h1v1h-1zM221,225h1v1h-1zM223,225h1v1h-1zM221,226h1v1h-1zM222,226h1v1h-1zM223,226h1v1h-1zM224,226h1v1h-1zM225,227h1v1h-1zM225,228h1v1h-1zM226,228h1v1h-1zM224,229h1v1h-1zM226,229h1v1h-1zM224,230h1v1h-1zM225,230h1v1h-1zM226,230h1v1h-1zM227,230h1v1h-1zM233,214h1v1h-1zM233,215h1v1h-1zM234,215h1v1h-1zM232,216h1v1h-1zM234,216h1v1h-1zM232,217h1v1h-1zM233,217h1v1h-1zM234,217h1v1h-1zM235,217h1v1h-1zM236,200h1v1h-1zM236,201h1v1h-1zM237,201h1v1h-1zM235,202h1v1h-1zM237,202h1v1h-1zM235,203h1v1h-1zM236,203h1v1h-1zM237,203h1v1h-1zM238,203h1v1h-1zM251,197h1v1h-1zM251,198h1v1h-1zM252,198h1v1h-1zM250,199h1v1h-1zM252,199h1v1h-1zM250,200h1v1h-1zM251,200h1v1h-1zM252,200h1v1h-1zM253,200h1v1h-1zM372,192h1v1h-1zM372,193h1v1h-1zM373,193h1v1h-1zM371,194h1v1h-1zM373,194h1v1h-1zM371,195h1v1h-1zM372,195h1v1h-1zM373,195h1v1h-1zM374,195h1v1h-1zM378,208h1v1h-1zM378,209h1v1h-1zM379,209h1v1h-1zM377,210h1v1h-1zM379,210h1v1h-1zM377,211h1v1h-1zM378,211h1v1h-1zM379,211h1v1h-1zM380,211h1v1h-1zM396,162h1v1h-1zM396,163h1v1h-1zM397,163h1v1h-1zM395,164h1v1h-1zM397,164h1v1h-1zM395,165h1v1h-1zM396,165h1v1h-1zM397,165h1v1h-1zM398,165h1v1h-1zM410,144h1v1h-1zM410,145h1v1h-1zM411,145h1v1h-1zM409,146h1v1h-1zM411,146h1v1h-1zM409,147h1v1h-1zM410,147h1v1h-1zM411,147h1v1h-1zM412,147h1v1h-1zM425,191h1v1h-1zM425,192h1v1h-1zM426,192h1v1h-1zM424,193h1v1h-1zM426,193h1v1h-1zM424,194h1v1h-1zM425,194h1v1h-1zM426,194h1v1h-1zM427,194h1v1h-1zM439,170h1v1h-1zM439,171h1v1h-1zM440,171h1v1h-1zM438,172h1v1h-1zM440,172h1v1h-1zM438,173h1v1h-1zM439,173h1v1h-1zM440,173h1v1h-1zM441,173h1v1h-1zM451,127h1v1h-1zM451,128h1v1h-1zM452,128h1v1h-1zM450,129h1v1h-1zM452,129h1v1h-1zM450,130h1v1h-1zM451,130h1v1h-1zM452,130h1v1h-1zM453,130h1v1h-1zM457,111h1v1h-1zM457,112h1v1h-1zM458,112h1v1h-1zM456,113h1v1h-1zM458,113h1v1h-1zM456,114h1v1h-1zM457,114h1v1h-1zM458,114h1v1h-1zM459,114h1v1h-1zM460,101h1v1h-1zM460,102h1v1h-1zM461,102h1v1h-1zM459,103h1v1h-1zM461,103h1v1h-1zM459,104h1v1h-1zM460,104h1v1h-1zM461,104h1v1h-1zM462,104h1v1h-1zM465,160h1v1h-1zM465,161h1v1h-1zM466,161h1v1h-1zM464,162h1v1h-1zM466,162h1v1h-1zM464,163h1v1h-1zM465,163h1v1h-1zM466,163h1v1h-1zM467,163h1v1h-1zM471,160h1v1h-1zM471,161h1v1h-1zM472,161h1v1h-1zM470,162h1v1h-1zM472,162h1v1h-1zM470,163h1v1h-1zM471,163h1v1h-1zM472,163h1v1h-1zM473,163h1v1h-1zM477,146h1v1h-1zM477,147h1v1h-1zM478,147h1v1h-1zM476,148h1v1h-1zM478,148h1v1h-1zM476,149h1v1h-1zM477,149h1v1h-1zM478,149h1v1h-1zM479,149h1v1h-1zM488,166h1v1h-1zM488,167h1v1h-1zM489,167h1v1h-1zM487,168h1v1h-1zM489,168h1v1h-1zM487,169h1v1h-1zM488,169h1v1h-1zM489,169h1v1h-1zM490,169h1v1h-1zM512,175h1v1h-1zM512,176h1v1h-1zM513,176h1v1h-1zM511,177h1v1h-1zM513,177h1v1h-1zM511,178h1v1h-1zM512,178h1v1h-1zM513,178h1v1h-1zM514,178h1v1h-1zM518,174h1v1h-1zM518,175h1v1h-1zM519,175h1v1h-1zM517,176h1v1h-1zM519,176h1v1h-1zM517,177h1v1h-1zM518,177h1v1h-1zM519,177h1v1h-1zM520,177h1v1h-1zM523,178h1v1h-1zM523,179h1v1h-1zM524,179h1v1h-1zM522,180h1v1h-1zM524,180h1v1h-1zM522,181h1v1h-1zM523,181h1v1h-1zM524,181h1v1h-1zM525,181h1v1h-1zM526,171h1v1h-1zM526,172h1v1h-1zM527,172h1v1h-1zM525,173h1v1h-1zM527,173h1v1h-1zM525,174h1v1h-1zM526,174h1v1h-1zM527,174h1v1h-1zM528,174h1v1h-1zM515,158h1v1h-1zM515,159h1v1h-1zM516,159h1v1h-1zM514,160h1v1h-1zM516,160h1v1h-1zM514,161h1v1h-1zM515,161h1v1h-1zM516,161h1v1h-1zM517,161h1v1h-1zM520,134h1v1h-1zM520,135h1v1h-1zM521,135h1v1h-1zM519,136h1v1h-1zM521,136h1v1h-1zM519,137h1v1h-1zM520,137h1v1h-1zM521,137h1v1h-1zM522,137h1v1h-1zM529,160h1v1h-1zM529,161h1v1h-1zM530,161h1v1h-1zM528,162h1v1h-1zM530,162h1v1h-1zM528,163h1v1h-1zM529,163h1v1h-1zM530,163h1v1h-1zM531,163h1v1h-1zM535,160h1v1h-1zM535,161h1v1h-1zM536,161h1v1h-1zM534,162h1v1h-1zM536,162h1v1h-1zM534,163h1v1h-1zM535,163h1v1h-1zM536,163h1v1h-1zM537,163h1v1h-1zM541,129h1v1h-1zM541,130h1v1h-1zM542,130h1v1h-1zM540,131h1v1h-1zM542,131h1v1h-1zM540,132h1v1h-1zM541,132h1v1h-1zM542,132h1v1h-1zM543,132h1v1h-1zM570,152h1v1h-1zM570,153h1v1h-1zM571,153h1v1h-1zM569,154h1v1h-1zM571,154h1v1h-1zM569,155h1v1h-1zM570,155h1v1h-1zM571,155h1v1h-1zM572,155h1v1h-1zM576,115h1v1h-1zM576,116h1v1h-1zM577,116h1v1h-1zM575,117h1v1h-1zM577,117h1v1h-1zM575,118h1v1h-1zM576,118h1v1h-1zM577,118h1v1h-1zM578,118h1v1h-1zM593,178h1v1h-1zM593,179h1v1h-1zM594,179h1v1h-1zM592,180h1v1h-1zM594,180h1v1h-1zM592,181h1v1h-1zM593,181h1v1h-1zM594,181h1v1h-1zM595,181h1v1h-1zM610,188h1v1h-1zM610,189h1v1h-1zM611,189h1v1h-1zM609,190h1v1h-1zM611,190h1v1h-1zM609,191h1v1h-1zM610,191h1v1h-1zM611,191h1v1h-1zM612,191h1v1h-1zM616,184h1v1h-1zM616,185h1v1h-1zM617,185h1v1h-1zM615,186h1v1h-1zM617,186h1v1h-1zM615,187h1v1h-1zM616,187h1v1h-1zM617,187h1v1h-1zM618,187h1v1h-1zM633,198h1v1h-1zM633,199h1v1h-1zM634,199h1v1h-1zM632,200h1v1h-1zM634,200h1v1h-1zM632,201h1v1h-1zM633,201h1v1h-1zM634,201h1v1h-1zM635,201h1v1h-1zM654,186h1v1h-1zM654,187h1v1h-1zM655,187h1v1h-1zM653,188h1v1h-1zM655,188h1v1h-1zM653,189h1v1h-1zM654,189h1v1h-1zM655,189h1v1h-1zM656,189h1v1h-1zM674,248h1v1h-1zM674,249h1v1h-1zM675,249h1v1h-1zM673,250h1v1h-1zM675,250h1v1h-1zM673,251h1v1h-1zM674,251h1v1h-1zM675,251h1v1h-1zM676,251h1v1h-1zM770,239h1v1h-1zM770,240h1v1h-1zM771,240h1v1h-1zM769,241h1v1h-1zM771,241h1v1h-1zM769,242h1v1h-1zM770,242h1v1h-1zM771,242h1v1h-1zM772,242h1v1h-1zM773,268h1v1h-1zM773,269h1v1h-1zM774,269h1v1h-1zM772,270h1v1h-1zM774,270h1v1h-1zM772,271h1v1h-1zM773,271h1v1h-1zM774,271h1v1h-1zM775,271h1v1h-1z" fill="#00ff00" stroke="none"/>
<polyline points="82.5,-56.0 91.5,189.4 94.5,90.6 97.6,125.2 100.4,204.4 103.4,-290.0 117.4,-60.0 120.4,171.5 152.2,245.0 155.2,86.0 158.4,63.1 161.5,80.6 164.0,50.6 169.4,214.4 172.5,247.5 175.5,74.6 178.5,119.4 181.4,43.1 184.6,71.9 187.4,48.8 190.0,115.6 193.1,73.8 196.0,242.2 199.0,296.2 202.1,136.6 204.4,116.5 207.5,296.2 210.6,203.5 213.5,223.0 216.6,143.8 219.5,157.0 222.0,248.8 225.0,228.0 228.1,74.6 231.1,254.0 233.5,288.5 236.8,251.0 239.4,261.0 242.5,186.5 245.5,234.8 248.2,325.8 251.2,272.0 280.0,242.5 283.1,254.0 286.0,202.2 332.4,148.5 366.9,238.8 370.0,225.2 372.9,264.4 376.0,252.5 378.5,260.6 384.8,255.0 387.5,226.5 390.6,241.0 395.6,241.9 398.8,246.9 401.9,253.1 405.0,243.5 408.1,248.8 410.6,254.4 413.5,262.1 416.5,248.8 419.4,269.1 425.2,264.5 428.1,298.1 431.0,265.6 433.8,327.5 436.2,329.0 439.4,331.9 442.9,269.4 445.2,269.0 448.6,334.8 451.7,333.2 454.0,236.5 456.9,273.8 460.4,277.9 463.5,286.2 466.0,299.4 468.1,299.4 471.5,250.6 474.4,215.6 477.5,282.5 480.6,222.8 483.1,250.2 486.2,243.5 488.8,191.9 491.9,275.2 494.6,210.6 497.5,258.1 500.3,0.0 503.5,238.8 506.5,238.1 509.5,274.2 512.1,261.2 515.0,282.0 517.9,214.8 520.5,281.2 523.5,222.5 526.2,262.0 529.4,238.1 532.2,243.0 535.4,199.8 538.1,194.4 541.0,187.5 544.1,39.8 546.9,186.2 552.5,334.2 555.6,195.0 558.5,191.9 564.4,241.9 567.0,261.8 570.0,265.8 572.9,193.1 576.0,221.0 579.0,204.0 581.5,189.0 584.6,225.0 587.8,211.2 590.6,182.5 593.1,197.5 595.0,198.5 597.5,199.0 600.0,199.5 602.5,200.0 605.0,343.0 607.5,192.3 610.5,113.4 613.6,192.0 616.2,213.8 619.4,241.9 622.9,124.6 625.1,163.4 628.1,218.1 631.1,163.4 633.6,194.0 636.9,228.5 639.4,-80.0 642.5,143.1 645.5,109.4 648.7,132.9 651.7,192.0 654.5,137.9 657.2,135.1 660.0,36.9 662.4,19.0 665.8,311.2 668.3,247.0 671.3,287.0 681.5,-60.0 683.5,35.0 691.9,53.1 694.6,9.0 697.5,25.6 699.9,17.0 703.8,91.2 706.5,97.3 709.5,60.0 711.9,166.9 715.3,74.4 718.1,166.9 721.0,32.2 723.9,-600.0 729.7,-6.0 735.4,53.1 738.5,49.4 741.9,69.2 744.7,70.4 746.9,109.4 750.2,113.8 753.4,128.8 755.6,120.6 758.5,175.0 761.4,241.4 764.6,177.8 767.5,243.4 770.6,262.2 772.8,389.2" stroke="#0c80ff"/>
<path d="M90,188h1v1h-1zM92,188h1v1h-1zM91,189h1v1h-1zM90,190h1v1h-1zM92,190h1v1h-1zM93,89h1v1h-1zM95,89h1v1h-1zM94,90h1v1h-1zM93,91h1v1h-1zM95,91h1v1h-1zM96,124h1v1h-1zM98,124h1v1h-1zM97,125h1v1h-1zM96,126h1v1h-1zM98,126h1v1h-1zM99,203h1v1h-1zM101,203h1v1h-1zM100,204h1v1h-1zM99,205h1v1h-1zM101,205h1v1h-1zM119,170h1v1h-1zM121,170h1v1h-1zM120,171h1v1h-1zM119,172h1v1h-1zM121,172h1v1h-1zM151,244h1v1h-1zM153,244h1v1h-1zM152,245h1v1h-1zM151,246h1v1h-1zM153,246h1v1h-1zM154,85h1v1h-1zM156,85h1v1h-1zM155,86h1v1h-1zM154,87h1v1h-1zM156,87h1v1h-1zM157,62h1v1h-1zM159,62h1v1h-1zM158,63h1v1h-1zM157,64h1v1h-1zM159,64h1v1h-1zM160,79h1v1h-1zM162,79h1v1h-1zM161,80h1v1h-1zM160,81h1v1h-1zM162,81h1v1h-1zM163,49h1v1h-1zM165,49h1v1h-1zM164,50h1v1h-1zM163,51h1v1h-1zM165,51h1v1h-1zM168,213h1v1h-1zM170,213h1v1h-1zM169,214h1v1h-1zM168,215h1v1h-1zM170,215h1v1h-1zM171,246h1v1h-1zM173,246h1v1h-1zM172,247h1v1h-1zM171,248h1v1h-1zM173,248h1v1h-1zM174,73h1v1h-1zM176,73h1v1h-1zM175,74h1v1h-1zM174,75h1v1h-1zM176,75h1v1h-1zM177,118h1v1h-1zM179,118h1v1h-1zM178,119h1v1h-1zM177,120h1v1h-1zM179,120h1v1h-1zM180,42h1v1h-1zM182,42h1v1h-1zM181,43h1v1h-1zM180,44h1v1h-1zM182,44h1v1h-1zM183,70h1v1h-1zM185,70h1v1h-1zM184,71h1v1h-1zM183,72h1v1h-1zM185,72h1v1h-1zM186,47h1v1h-1zM188,47h1v1h-1zM187,48h1v1h-1zM186,49h1v1h-1zM188,49h1v1h-1zM189,114h1v1h-1zM191,114h1v1h-1zM190,115h1v1h-1zM189,116h1v1h-1zM191,116h1v1h-1zM192,72h1v1h-1zM194,72h1v1h-1zM193,73h1v1h-1zM192,74h1v1h-1zM194,74h1v1h-1zM195,241h1v1h-1zM197,241h1v1h-1zM196,242h1v1h-1zM195,243h1v1h-1zM197,243h1v1h-1zM198,295h1v1h-1zM200,295h1v1h-1zM199,296h1v1h-1zM198,297h1v1h-1zM200,297h1v1h-1zM201,135h1v1h-1zM203,135h1v1h-1zM202,136h1v1h-1zM201,137h1v1h-1zM203,137h1v1h-1zM203,115h1v1h-1zM205,115h1v1h-1zM204,116h1v1h-1zM203,117h1v1h-1zM205,117h1v1h-1zM206,295h1v1h-1zM208,295h1v1h-1zM207,296h1v1h-1zM206,297h1v1h-1zM208,297h1v1h-1zM209,202h1v1h-1zM211,202h1v1h-1zM210,203h1v1h-1zM209,204h1v1h-1zM211,204h1v1h-1zM212,222h1v1h-1zM214,222h1v1h-1zM213,223h1v1h-1zM212,224h1v1h-1zM214,224h1v1h-1zM215,142h1v1h-1zM217,142h1v1h-1zM216,143h1v1h-1zM215,144h1v1h-1zM217,144h1v1h-1zM218,156h1v1h-1zM220,156h1v1h-1zM219,157h1v1h-1zM218,158h1v1h-1zM220,158h1v1h-1zM221,247h1v1h-1zM223,247h1v1h-1zM222,248h1v1h-1zM221,249h1v1h-1zM223,249h1v1h-1zM224,227h1v1h-1zM226,227h1v1h-1zM225,228h1v1h-1zM224,229h1v1h-1zM226,229h1v1h-1zM227,73h1v1h-1zM229,73h1v1h-1zM228,74h1v1h-1zM227,75h1v1h-1zM229,75h1v1h-1zM230,253h1v1h-1zM232,253h1v1h-1zM231,254h1v1h-1zM230,255h1v1h-1zM232,255h1v1h-1zM232,287h1v1h-1zM234,287h1v1h-1zM233,288h1v1h-1zM232,289h1v1h-1zM234,289h1v1h-1zM235,250h1v1h-1zM237,250h1v1h-1zM236,251h1v1h-1zM235,252h1v1h-1zM237,252h1v1h-1zM238,260h1v1h-1zM240,260h1v1h-1zM239,261h1v1h-1zM238,262h1v1h-1zM240,262h1v1h-1zM241,185h1v1h-1zM243,185h1v1h-1zM242,186h1v1h-1zM241,187h1v1h-1zM243,187h1v1h-1zM244,233h1v1h-1zM246,233h1v1h-1zM245,234h1v1h-1zM244,235h1v1h-1zM246,235h1v1h-1zM247,324h1v1h-1zM249,324h1v1h-1zM248,325h1v1h-1zM247,326h1v1h-1zM249,326h1v1h-1zM250,271h1v1h-1zM252,271h1v1h-1zM251,272h1v1h-1zM250,273h1v1h-1zM252,273h1v1h-1zM279,241h1v1h-1zM281,241h1v1h-1zM280,242h1v1h-1zM279,243h1v1h-1zM281,243h1v1h-1zM282,253h1v1h-1zM284,253h1v1h-1zM283,254h1v1h-1zM282,255h1v1h-1zM284,255h1v1h-1zM285,201h1v1h-1zM287,201h1v1h-1zM286,202h1v1h-1zM285,203h1v1h-1zM287,203h1v1h-1zM331,147h1v1h-1zM333,147h1v1h-1zM332,148h1v1h-1zM331,149h1v1h-1zM333,149h1v1h-1zM365,237h1v1h-1zM367,237h1v1h-1zM366,238h1v1h-1zM365,239h1v1h-1zM367,239h1v1h-1zM369,224h1v1h-1zM371,224h1v1h-1zM370,225h1v1h-1zM369,226h1v1h-1zM371,226h1v1h-1zM371,263h1v1h-1zM373,263h1v1h-1zM372,264h1v1h-1zM371,265h1v1h-1zM373,265h1v1h-1zM375,251h1v1h-1zM377,251h1v1h-1zM376,252h1v1h-1zM375,253h1v1h-1zM377,253h1v1h-1zM377,259h1v1h-1zM379,259h1v1h-1zM378,260h1v1h-1zM377,261h1v1h-1zM379,261h1v1h-1zM383,254h1v1h-1zM385,254h1v1h-1zM384,255h1v1h-1zM383,256h1v1h-1zM385,256h1v1h-1zM386,225h1v1h-1zM388,225h1v1h-1zM387,226h1v1h-1zM386,227h1v1h-1zM388,227h1v1h-1zM389,240h1v1h-1zM391,240h1v1h-1zM390,241h1v1h-1zM389,242h1v1h-1zM391,242h1v1h-1zM394,240h1v1h-1zM396,240h1v1h-1zM395,241h1v1h-1zM394,242h1v1h-1zM396,242h1v1h-1zM397,245h1v1h-1zM399,245h1v1h-1zM398,246h1v1h-1zM397,247h1v1h-1zM399,247h1v1h-1zM400,252h1v1h-1zM402,252h1v1h-1zM401,253h1v1h-1zM400,254h1v1h-1zM402,254h1v1h-1zM404,242h1v1h-1zM406,242h1v1h-1zM405,243h1v1h-1zM404,244h1v1h-1zM406,244h1v1h-1zM407,247h1v1h-1zM409,247h1v1h-1zM408,248h1v1h-1zM407,249h1v1h-1zM409,249h1v1h-1zM409,253h1v1h-1zM411,253h1v1h-1zM410,254h1v1h-1zM409,255h1v1h-1zM411,255h1v1h-1zM412,261h1v1h-1zM414,261h1v1h-1zM413,262h1v1h-1zM412,263h1v1h-1zM414,263h1v1h-1zM415,247h1v1h-1zM417,247h1v1h-1zM416,248h1v1h-1zM415,249h1v1h-1zM417,249h1v1h-1zM418,268h1v1h-1zM420,268h1v1h-1zM419,269h1v1h-1zM418,270h1v1h-1zM420,270h1v1h-1zM424,263h1v1h-1zM426,263h1v1h-1zM425,264h1v1h-1zM424,265h1v1h-1zM426,265h1v1h-1zM427,297h1v1h-1zM429,297h1v1h-1zM428,298h1v1h-1zM427,299h1v1h-1zM429,299h1v1h-1zM430,264h1v1h-1zM432,264h1v1h-1zM431,265h1v1h-1zM430,266h1v1h-1zM432,266h1v1h-1zM432,326h1v1h-1zM434,326h1v1h-1zM433,327h1v1h-1zM432,328h1v1h-1zM434,328h1v1h-1zM435,328h1v1h-1zM437,328h1v1h-1zM436,329h1v1h-1zM435,330h1v1h-1zM437,330h1v1h-1zM438,330h1v1h-1zM440,330h1v1h-1zM439,331h1v1h-1zM438,332h1v1h-1zM440,332h1v1h-1zM441,268h1v1h-1zM443,268h1v1h-1zM442,269h1v1h-1zM441,270h1v1h-1zM443,270h1v1h-1zM444,268h1v1h-1zM446,268h1v1h-1zM445,269h1v1h-1zM444,270h1v1h-1zM446,270h1v1h-1zM447,333h1v1h-1zM449,333h1v1h-1zM448,334h1v1h-1zM447,335h1v1h-1zM449,335h1v1h-1zM450,332h1v1h-1zM452,332h1v1h-1zM451,333h1v1h-1zM450,334h1v1h-1zM452,334h1v1h-1zM453,235h1v1h-1zM455,235h1v1h-1zM454,236h1v1h-1zM453,237h1v1h-1zM455,237h1v1h-1zM455,272h1v1h-1zM457,272h1v1h-1zM456,273h1v1h-1zM455,274h1v1h-1zM457,274h1v1h-1zM459,276h1v1h-1zM461,276h1v1h-1zM460,277h1v1h-1zM459,278h1v1h-1zM461,278h1v1h-1zM462,285h1v1h-1zM464,285h1v1h-1zM463,286h1v1h-1zM462,287h1v1h-1zM464,287h1v1h-1zM465,298h1v1h-1zM467,298h1v1h-1zM466,299h1v1h-1zM465,300h1v1h-1zM467,300h1v1h-1zM467,298h1v1h-1zM469,298h1v1h-1zM468,299h1v1h-1zM467,300h1v1h-1zM469,300h1v1h-1zM470,249h1v1h-1zM472,249h1v1h-1zM471,250h1v1h-1zM470,251h1v1h-1zM472,251h1v1h-1zM473,214h1v1h-1zM475,214h1v1h-1zM474,215h1v1h-1zM473,216h1v1h-1zM475,216h1v1h-1zM476,281h1v1h-1zM478,281h1v1h-1zM477,282h1v1h-1zM476,283h1v1h-1zM478,283h1v1h-1zM479,221h1v1h-1zM481,221h1v1h-1zM480,222h1v1h-1zM479,223h1v1h-1zM481,223h1v1h-1zM482,249h1v1h-1zM484,249h1v1h-1zM483,250h1v1h-1zM482,251h1v1h-1zM484,251h1v1h-1zM485,242h1v1h-1zM487,242h1v1h-1zM486,243h1v1h-1zM485,244h1v1h-1zM487,244h1v1h-1zM487,190h1v1h-1zM489,190h1v1h-1zM488,191h1v1h-1zM487,192h1v1h-1zM489,192h1v1h-1zM490,274h1v1h-1zM492,274h1v1h-1zM491,275h1v1h-1zM490,276h1v1h-1zM492,276h1v1h-1zM493,209h1v1h-1zM495,209h1v1h-1zM494,210h1v1h-1zM493,211h1v1h-1zM495,211h1v1h-1zM496,257h1v1h-1zM498,257h1v1h-1zM497,258h1v1h-1zM496,259h1v1h-1zM498,259h1v1h-1zM502,237h1v1h-1zM504,237h1v1h-1zM503,238h1v1h-1zM502,239h1v1h-1zM504,239h1v1h-1zM505,237h1v1h-1zM507,237h1v1h-1zM506,238h1v1h-1zM505,239h1v1h-1zM507,239h1v1h-1zM508,273h1v1h-1zM510,273h1v1h-1zM509,274h1v1h-1zM508,275h1v1h-1zM510,275h1v1h-1zM511,260h1v1h-1zM513,260h1v1h-1zM512,261h1v1h-1zM511,262h1v1h-1zM513,262h1v1h-1zM514,281h1v1h-1zM516,281h1v1h-1zM515,282h1v1h-1zM514,283h1v1h-1zM516,283h1v1h-1zM516,213h1v1h-1zM518,213h1v1h-1zM517,214h1v1h-1zM516,215h1v1h-1zM518,215h1v1h-1zM519,280h1v1h-1zM521,280h1v1h-1zM520,281h1v1h-1zM519,282h1v1h-1zM521,282h1v1h-1zM522,221h1v1h-1zM524,221h1v1h-1zM523,222h1v1h-1zM522,223h1v1h-1zM524,223h1v1h-1zM525,261h1v1h-1zM527,261h1v1h-1zM526,262h1v1h-1zM525,263h1v1h-1zM527,263h1v1h-1zM528,237h1v1h-1zM530,237h1v1h-1zM529,238h1v1h-1zM528,239h1v1h-1zM530,239h1v1h-1zM531,242h1v1h-1zM533,242h1v1h-1zM532,243h1v1h-1zM531,244h1v1h-1zM533,244h1v1h-1zM534,198h1v1h-1zM536,198h1v1h-1zM535,199h1v1h-1zM534,200h1v1h-1zM536,200h1v1h-1zM537,193h1v1h-1zM539,193h1v1h-1zM538,194h1v1h-1zM537,195h1v1h-1zM539,195h1v1h-1zM540,186h1v1h-1zM542,186h1v1h-1zM541,187h1v1h-1zM540,188h1v1h-1zM542,188h1v1h-1zM543,38h1v1h-1zM545,38h1v1h-1zM544,39h1v1h-1zM543,40h1v1h-1zM545,40h1v1h-1zM545,185h1v1h-1zM547,185h1v1h-1zM546,186h1v1h-1zM545,187h1v1h-1zM547,187h1v1h-1zM551,333h1v1h-1zM553,333h1v1h-1zM552,334h1v1h-1zM551,335h1v1h-1zM553,335h1v1h-1zM554,194h1v1h-1zM556,194h1v1h-1zM555,195h1v1h-1zM554,196h1v1h-1zM556,196h1v1h-1zM557,190h1v1h-1zM559,190h1v1h-1zM558,191h1v1h-1zM557,192h1v1h-1zM559,192h1v1h-1zM563,240h1v1h-1zM565,240h1v1h-1zM564,241h1v1h-1zM563,242h1v1h-1zM565,242h1v1h-1zM566,260h1v1h-1zM568,260h1v1h-1zM567,261h1v1h-1zM566,262h1v1h-1zM568,262h1v1h-1zM569,264h1v1h-1zM571,264h1v1h-1zM570,265h1v1h-1zM569,266h1v1h-1zM571,266h1v1h-1zM571,192h1v1h-1zM573,192h1v1h-1zM572,193h1v1h-1zM571,194h1v1h-1zM573,194h1v1h-1zM575,220h1v1h-1zM577,220h1v1h-1zM576,221h1v1h-1zM575,222h1v1h-1zM577,222h1v1h-1zM578,203h1v1h-1zM580,203h1v1h-1zM579,204h1v1h-1zM578,205h1v1h-1zM580,205h1v1h-1zM580,188h1v1h-1zM582,188h1v1h-1zM581,189h1v1h-1zM580,190h1v1h-1zM582,190h1v1h-1zM583,224h1v1h-1zM585,224h1v1h-1zM584,225h1v1h-1zM583,226h1v1h-1zM585,226h1v1h-1zM586,210h1v1h-1zM588,210h1v1h-1zM587,211h1v1h-1zM586,212h1v1h-1zM588,212h1v1h-1zM589,181h1v1h-1zM591,181h1v1h-1zM590,182h1v1h-1zM589,183h1v1h-1zM591,183h1v1h-1zM592,196h1v1h-1zM594,196h1v1h-1zM593,197h1v1h-1zM592,198h1v1h-1zM594,198h1v1h-1zM594,197h1v1h-1zM596,197h1v1h-1zM595,198h1v1h-1zM594,199h1v1h-1zM596,199h1v1h-1zM596,198h1v1h-1zM598,198h1v1h-1zM597,199h1v1h-1zM596,200h1v1h-1zM598,200h1v1h-1zM599,198h1v1h-1zM601,198h1v1h-1zM600,199h1v1h-1zM599,200h1v1h-1zM601,200h1v1h-1zM601,199h1v1h-1zM603,199h1v1h-1zM602,200h1v1h-1zM601,201h1v1h-1zM603,201h1v1h-1zM604,342h1v1h-1zM606,342h1v1h-1zM605,343h1v1h-1zM604,344h1v1h-1zM606,344h1v1h-1zM606,191h1v1h-1zM608,191h1v1h-1zM607,192h1v1h-1zM606,193h1v1h-1zM608,193h1v1h-1zM609,112h1v1h-1zM611,112h1v1h-1zM610,113h1v1h-1zM609,114h1v1h-1zM611,114h1v1h-1zM612,191h1v1h-1zM614,191h1v1h-1zM613,192h1v1h-1zM612,193h1v1h-1zM614,193h1v1h-1zM615,212h1v1h-1zM617,212h1v1h-1zM616,213h1v1h-1zM615,214h1v1h-1zM617,214h1v1h-1zM618,240h1v1h-1zM620,240h1v1h-1zM619,241h1v1h-1zM618,242h1v1h-1zM620,242h1v1h-1zM621,123h1v1h-1zM623,123h1v1h-1zM622,124h1v1h-1zM621,125h1v1h-1zM623,125h1v1h-1zM624,162h1v1h-1zM626,162h1v1h-1zM625,163h1v1h-1zM624,164h1v1h-1zM626,164h1v1h-1zM627,217h1v1h-1zM629,217h1v1h-1zM628,218h1v1h-1zM627,219h1v1h-1zM629,219h1v1h-1zM630,162h1v1h-1zM632,162h1v1h-1zM631,163h1v1h-1zM630,164h1v1h-1zM632,164h1v1h-1zM632,193h1v1h-1zM634,193h1v1h-1zM633,194h1v1h-1zM632,195h1v1h-1zM634,195h1v1h-1zM635,227h1v1h-1zM637,227h1v1h-1zM636,228h1v1h-1zM635,229h1v1h-1zM637,229h1v1h-1zM641,142h1v1h-1zM643,142h1v1h-1zM642,143h1v1h-1zM641,144h1v1h-1zM643,144h1v1h-1zM644,108h1v1h-1zM646,108h1v1h-1zM645,109h1v1h-1zM644,110h1v1h-1zM646,110h1v1h-1zM647,131h1v1h-1zM649,131h1v1h-1zM648,132h1v1h-1zM647,133h1v1h-1zM649,133h1v1h-1zM650,191h1v1h-1zM652,191h1v1h-1zM651,192h1v1h-1zM650,193h1v1h-1zM652,193h1v1h-1zM653,136h1v1h-1zM655,136h1v1h-1zM654,137h1v1h-1zM653,138h1v1h-1zM655,138h1v1h-1zM656,134h1v1h-1zM658,134h1v1h-1zM657,135h1v1h-1zM656,136h1v1h-1zM658,136h1v1h-1zM659,35h1v1h-1zM661,35h1v1h-1zM660,36h1v1h-1zM659,37h1v1h-1zM661,37h1v1h-1zM664,310h1v1h-1zM666,310h1v1h-1zM665,311h1v1h-1zM664,312h1v1h-1zM666,312h1v1h-1zM667,246h1v1h-1zM669,246h1v1h-1zM668,247h1v1h-1zM667,248h1v1h-1zM669,248h1v1h-1zM670,286h1v1h-1zM672,286h1v1h-1zM671,287h1v1h-1zM670,288h1v1h-1zM672,288h1v1h-1zM682,34h1v1h-1zM684,34h1v1h-1zM683,35h1v1h-1zM682,36h1v1h-1zM684,36h1v1h-1zM690,52h1v1h-1zM692,52h1v1h-1zM691,53h1v1h-1zM690,54h1v1h-1zM692,54h1v1h-1zM696,24h1v1h-1zM698,24h1v1h-1zM697,25h1v1h-1zM696,26h1v1h-1zM698,26h1v1h-1zM702,90h1v1h-1zM704,90h1v1h-1zM703,91h1v1h-1zM702,92h1v1h-1zM704,92h1v1h-1zM705,96h1v1h-1zM707,96h1v1h-1zM706,97h1v1h-1zM705,98h1v1h-1zM707,98h1v1h-1zM708,59h1v1h-1zM710,59h1v1h-1zM709,60h1v1h-1zM708,61h1v1h-1zM710,61h1v1h-1zM710,165h1v1h-1zM712,165h1v1h-1zM711,166h1v1h-1zM710,167h1v1h-1zM712,167h1v1h-1zM714,73h1v1h-1zM716,73h1v1h-1zM715,74h1v1h-1zM714,75h1v1h-1zM716,75h1v1h-1zM717,165h1v1h-1zM719,165h1v1h-1zM718,166h1v1h-1zM717,167h1v1h-1zM719,167h1v1h-1zM720,31h1v1h-1zM722,31h1v1h-1zM721,32h1v1h-1zM720,33h1v1h-1zM722,33h1v1h-1zM734,52h1v1h-1zM736,52h1v1h-1zM735,53h1v1h-1zM734,54h1v1h-1zM736,54h1v1h-1zM737,48h1v1h-1zM739,48h1v1h-1zM738,49h1v1h-1zM737,50h1v1h-1zM739,50h1v1h-1zM740,68h1v1h-1zM742,68h1v1h-1zM741,69h1v1h-1zM740,70h1v1h-1zM742,70h1v1h-1zM743,69h1v1h-1zM745,69h1v1h-1zM744,70h1v1h-1zM743,71h1v1h-1zM745,71h1v1h-1zM745,108h1v1h-1zM747,108h1v1h-1zM746,109h1v1h-1zM745,110h1v1h-1zM747,110h1v1h-1zM749,112h1v1h-1zM751,112h1v1h-1zM750,113h1v1h-1zM749,114h1v1h-1zM751,114h1v1h-1zM752,127h1v1h-1zM754,127h1v1h-1zM753,128h1v1h-1zM752,129h1v1h-1zM754,129h1v1h-1zM754,119h1v1h-1zM756,119h1v1h-1zM755,120h1v1h-1zM754,121h1v1h-1zM756,121h1v1h-1zM757,174h1v1h-1zM759,174h1v1h-1zM758,175h1v1h-1zM757,176h1v1h-1zM759,176h1v1h-1zM760,240h1v1h-1zM762,240h1v1h-1zM761,241h1v1h-1zM760,242h1v1h-1zM762,242h1v1h-1zM763,176h1v1h-1zM765,176h1v1h-1zM764,177h1v1h-1zM763,178h1v1h-1zM765,178h1v1h-1zM766,242h1v1h-1zM768,242h1v1h-1zM767,243h1v1h-1zM766,244h1v1h-1zM768,244h1v1h-1zM769,261h1v1h-1zM771,261h1v1h-1zM770,262h1v1h-1zM769,263h1v1h-1zM771,263h1v1h-1zM771,388h1v1h-1zM773,388h1v1h-1zM772,389h1v1h-1zM771,390h1v1h-1zM773,390h1v1h-1z" fill="#0c80ff" stroke="none"/>
</g>
<text x="64.7" y="32" font-size="13" fill="#000" text-anchor="end">5</text>
<text x="64.7" y="134.2" font-size="13" fill="#000" text-anchor="end">4</text>
<text x="64.7" y="239.8" font-size="13" fill="#000" text-anchor="end">3</text>
<text x="64.7" y="345.3" font-size="13" fill="#000" text-anchor="end">2</text>
<text x="64.7" y="450.9" font-size="13" fill="#000" text-anchor="end">1</text>
<text x="64.7" y="552.2" font-size="13" fill="#000" text-anchor="end">0</text>
<text x="72.2" y="580.8" font-size="13" fill="#000" text-anchor="start" textLength="15.6" lengthAdjust="spacing">00</text>
<text x="130.2" y="580.8" font-size="13" fill="#000" text-anchor="start" textLength="15.6" lengthAdjust="spacing">02</text>
<text x="188.2" y="580.8" font-size="13" fill="#000" text-anchor="start" textLength="15.6" lengthAdjust="spacing">04</text>
<text x="246.2" y="580.8" font-size="13" fill="#000" text-anchor="start" textLength="15.6" lengthAdjust="spacing">06</text>
<text x="304.2" y="580.8" font-size="13" fill="#000" text-anchor="start" textLength="15.6" lengthAdjust="spacing">08</text>
<text x="362.2" y="580.8" font-size="13" fill="#000" text-anchor="start" textLength="15.6" lengthAdjust="spacing">10</text>
<text x="420.2" y="580.8" font-size="13" fill="#000" text-anchor="start" textLength="15.6" lengthAdjust="spacing">12</text>
<text x="478.2" y="580.8" font-size="13" fill="#000" text-anchor="start" textLength="15.6" lengthAdjust="spacing">14</text>
<text x="536.2" y="580.8" font-size="13" fill="#000" text-anchor="start" textLength="15.6" lengthAdjust="spacing">16</text>
<text x="594.2" y="580.8" font-size="13" fill="#000" text-anchor="start" textLength="15.6" lengthAdjust="spacing">18</text>
<text x="652.2" y="580.8" font-size="13" fill="#000" text-anchor="start" textLength="15.6" lengthAdjust="spacing">20</text>
<text x="710.2" y="580.8" font-size="13" fill="#000" text-anchor="start" textLength="15.6" lengthAdjust="spacing">22</text>
<text x="768.2" y="580.8" font-size="13" fill="#000" text-anchor="start" textLength="15.6" lengthAdjust="spacing">00</text>
<text x="383.6" y="597" font-size="14" fill="#000" text-anchor="start" textLength="87.5" lengthAdjust="spacing">8-MAY-2009</text>
<text transform="translate(45,306.8) rotate(-90)" font-size="13" textLength="37.4" lengthAdjust="spacing">[MHz]</text>
<text x="603" y="66.5" font-size="13" fill="#000" text-anchor="start" textLength="29.1" lengthAdjust="spacing">peak</text>
<text x="639.7" y="66.5" font-size="13" fill="#000" text-anchor="start" textLength="21" lengthAdjust="spacing">raw</text>
<text x="669.3" y="66.5" font-size="13" fill="#000" text-anchor="start" textLength="27.7" lengthAdjust="spacing">foF2</text>
<text x="603.5" y="97.5" font-size="13" fill="#ffc400" text-anchor="start" textLength="39.6" lengthAdjust="spacing" stroke="#ffc400" stroke-width="0.3">POLAN</text>
<text x="651.1" y="97.5" font-size="13" fill="#ffc400" text-anchor="start" textLength="27.8" lengthAdjust="spacing" stroke="#ffc400" stroke-width="0.3">foF2</text>
<text x="603" y="129.8" font-size="13" fill="#00ff00" text-anchor="start" textLength="29.5" lengthAdjust="spacing" stroke="#00ff00" stroke-width="0.3">Mean</text>
<text x="643.1" y="129.8" font-size="13" fill="#00ff00" text-anchor="start" textLength="20.5" lengthAdjust="spacing" stroke="#00ff00" stroke-width="0.3">raw</text>
<text x="672" y="129.8" font-size="13" fill="#00ff00" text-anchor="start" textLength="27.2" lengthAdjust="spacing" stroke="#00ff00" stroke-width="0.3">foF2</text>
<text x="603" y="208" font-size="13" fill="#0c80ff" text-anchor="start" textLength="29.1" lengthAdjust="spacing" stroke="#0c80ff" stroke-width="0.3">peak</text>
<text x="639.7" y="208" font-size="13" fill="#0c80ff" text-anchor="start" textLength="21" lengthAdjust="spacing" stroke="#0c80ff" stroke-width="0.3">raw</text>
<text x="669.3" y="208" font-size="13" fill="#0c80ff" text-anchor="start" textLength="20.5" lengthAdjust="spacing" stroke="#0c80ff" stroke-width="0.3">foE</text>
</svg>
</body></html>
